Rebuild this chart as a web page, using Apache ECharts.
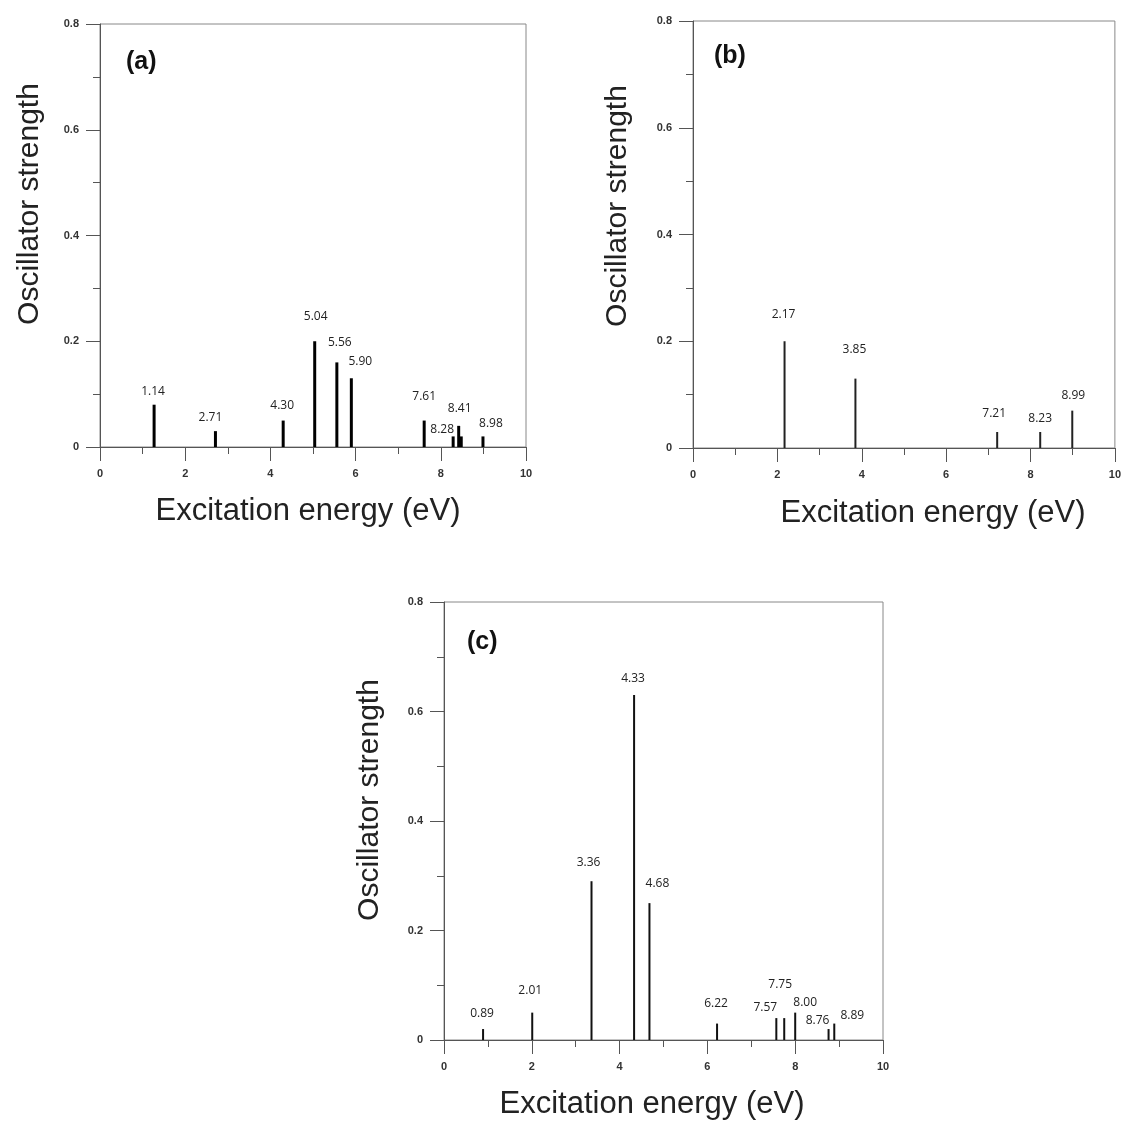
<!DOCTYPE html>
<html lang="en">
<head>
  <meta charset="UTF-8">
  <title>Oscillator strength</title>
  <script src="https://cdn.jsdelivr.net/npm/echarts@6/dist/echarts.min.js"></script>
  <style>
    html, body { margin: 0; padding: 0; background: #fff; }
    #chart { width: 1124px; height: 1122px; }
  </style>
</head>
<body>
  <div id="chart"></div>
<script>
  // panel (a)
  const energiesA = [1.27, 2.71, 4.30, 5.04, 5.56, 5.90, 7.61, 8.29, 8.42, 8.48, 8.99]
  const strengthsA = [0.08, 0.03, 0.05, 0.20, 0.16, 0.13, 0.05, 0.02, 0.04, 0.02, 0.02]
  const labelsA = ['1.14', '2.71', '4.30', '5.04', '5.56', '5.90', '7.61', '8.28', '8.41', '', '8.98']
  // panel (b)
  const energiesB = [2.17, 3.85, 7.21, 8.23, 8.99]
  const strengthsB = [0.20, 0.13, 0.03, 0.03, 0.07]
  const labelsB = ['2.17', '3.85', '7.21', '8.23', '8.99']
  // panel (c)
  const energiesC = [0.89, 2.01, 3.36, 4.33, 4.68, 6.22, 7.57, 7.75, 8.00, 8.76, 8.89]
  const strengthsC = [0.02, 0.05, 0.29, 0.63, 0.25, 0.03, 0.04, 0.04, 0.05, 0.02, 0.03]
  const labelsC = ['0.89', '2.01', '3.36', '4.33', '4.68', '6.22', '7.57', '7.75', '8.00', '8.76', '8.89']

  const xTicks = [0, 2, 4, 6, 8, 10]
  const yTicks = [0, 0.2, 0.4, 0.6, 0.8]

  // label nudges [dx, px above bar top] - just to mimic the hand placed labels
  const nudgeA = [[-1, 14], [-5, 15], [-1, 16], [1, 26], [3, 21], [9, 18], [0, 25], [-11, 8], [1, 18], [0, 0], [8, 14]]
  const nudgeB = [[-1, 28], [-1, 30], [-3, 19], [0, 14], [1, 16]]
  const nudgeC = [[-1, 16], [-2, 23], [-3, 20], [-1, 17], [8, 21], [-1, 21], [-11, 12], [-4, 35], [10, 11], [-11, 9], [18, 9]]

  const panels = [
    { tag: '(a)', tagPos: [126, 62], grid: { left: 100, top: 24, width: 426, height: 423 }, e: energiesA, f: strengthsA, l: labelsA, n: nudgeA, bw: 3, color: '#000',
      xName: [308, 511], yName: [30, 204] },
    { tag: '(b)', tagPos: [714, 56], grid: { left: 693, top: 21, width: 428, height: 427 }, e: energiesB, f: strengthsB, l: labelsB, n: nudgeB, bw: 2, color: '#222',
      xName: [933, 513], yName: [618, 206] },
    { tag: '(c)', tagPos: [467, 642], grid: { left: 444, top: 602, width: 439, height: 438 }, e: energiesC, f: strengthsC, l: labelsC, n: nudgeC, bw: 2, color: '#111',
      xName: [652, 1104], yName: [370, 800] }
  ]

  const axisColor = '#555'
  const tickFont = { fontFamily: 'Liberation Sans', fontSize: 11, fontWeight: 'bold', color: '#333' }

  let option = {
    animation: false,
    backgroundColor: '#fff',
    grid: [], xAxis: [], yAxis: [], series: [], graphic: []
  }

  panels.forEach((p, i) => {
    option.grid.push(Object.assign({ show: true, borderColor: '#888', borderWidth: 1 }, p.grid))
    option.xAxis.push({
      type: 'value', gridIndex: i, min: xTicks[0], max: xTicks[xTicks.length - 1], interval: 2,
      axisLine: { onZero: false, lineStyle: { color: axisColor } },
      axisTick: { inside: false, length: 14, lineStyle: { color: axisColor } },
      minorTick: { show: true, splitNumber: 2, length: 7, lineStyle: { color: axisColor } },
      axisLabel: Object.assign({ margin: 21 }, tickFont),
      splitLine: { show: false }
    })
    option.yAxis.push({
      type: 'value', gridIndex: i, min: yTicks[0], max: yTicks[yTicks.length - 1], interval: 0.2,
      axisLine: { lineStyle: { color: axisColor } },
      axisTick: { inside: false, length: 14, lineStyle: { color: axisColor } },
      minorTick: { show: true, splitNumber: 2, length: 7, lineStyle: { color: axisColor } },
      axisLabel: Object.assign({ margin: 21 }, tickFont),
      splitLine: { show: false }
    })
    option.series.push({
      type: 'bar', xAxisIndex: i, yAxisIndex: i, barWidth: p.bw,
      itemStyle: { color: p.color },
      label: {
        show: true, position: 'top', distance: 0,
        fontFamily: 'Open Sans', fontSize: 12, color: '#222',
        formatter: d => d.name
      },
      data: p.e.map((x, k) => ({
        name: p.l[k],
        value: [x, p.f[k]],
        label: { offset: [p.n[k][0], -(p.n[k][1] - 7)] }
      }))
    })
    option.graphic.push({
      type: 'text', x: p.tagPos[0], y: p.tagPos[1],
      style: { text: p.tag, font: 'bold 25px "Liberation Sans"', fill: '#111', textAlign: 'left', textVerticalAlign: 'middle' }
    })
    option.graphic.push({
      type: 'text', x: p.xName[0], y: p.xName[1],
      style: { text: 'Excitation energy (eV)', font: '31px "Liberation Sans"', fill: '#222', textAlign: 'center', textVerticalAlign: 'middle' }
    })
    option.graphic.push({
      type: 'text', x: p.yName[0], y: p.yName[1], rotation: Math.PI / 2,
      style: { text: 'Oscillator strength', font: '30px "Liberation Sans"', fill: '#222', textAlign: 'center', textVerticalAlign: 'middle' }
    })
  })

  let chart = echarts.init(document.getElementById('chart'))
  chart.setOption(option)
</script>
</body>
</html>
